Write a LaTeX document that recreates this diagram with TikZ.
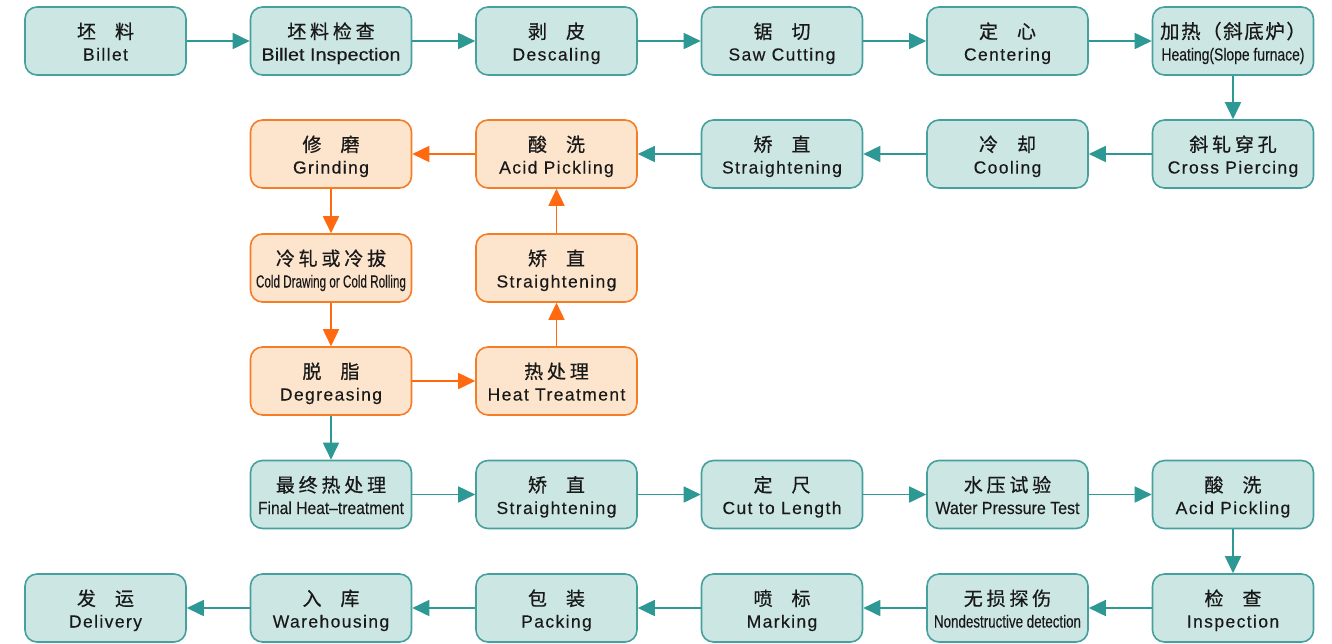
\documentclass[tikz,border=0pt]{standalone}
\usepackage{fontspec}
\usepackage{graphicx}
\usetikzlibrary{arrows.meta}
\newfontfamily\cjkf[LetterSpace=20,FakeBold=0.6]{Noto Sans CJK SC}
\newfontfamily\cjkn[LetterSpace=8,FakeBold=0.6]{Noto Sans CJK SC}
\newfontfamily\enf[LetterSpace=8,FakeBold=0.3]{Liberation Sans}
\newfontfamily\enc[FakeBold=0.3]{Liberation Sans}
\definecolor{tealF}{RGB}{204,230,228}
\definecolor{tealS}{RGB}{70,160,157}
\definecolor{tealA}{RGB}{45,152,148}
\definecolor{orF}{RGB}{253,228,204}
\definecolor{orS}{RGB}{245,125,38}
\definecolor{orA}{RGB}{255,105,15}
\definecolor{txt}{RGB}{25,25,25}
\newcommand\cnl[1]{{\cjkf\fontsize{19}{22}\selectfont\rule{0pt}{17pt}#1}}
\newcommand\cnt[1]{{\cjkn\fontsize{19.5}{22}\selectfont\rule{0pt}{17pt}#1}}
\newcommand\enl[1]{{\enf\fontsize{17.5}{22}\selectfont\smash{#1}}}
\newcommand\enq[2]{{\enc\fontsize{17.5}{22}\selectfont\smash{\resizebox{#1pt}{\height}{#2}}}}
\newcommand\twoch[2]{#1\hspace{19pt}#2}
\begin{document}
\begin{tikzpicture}[x=1pt,y=-1pt,
  box/.style={rounded corners=12pt, minimum width=161pt, minimum height=68pt,
    line width=1.6pt, align=center, inner sep=0pt, text=txt,
    font=\fontsize{17.5}{22}\selectfont},
  tbox/.style={box, draw=tealS, fill=tealF},
  obox/.style={box, draw=orS, fill=orF},
  tarr/.style={draw=tealA, line width=1.7pt, -{Triangle[length=17pt,width=16pt,fill=tealA]}},
  oarr/.style={draw=orA, line width=1.7pt, -{Triangle[length=17pt,width=16pt,fill=orA]}}]
\useasboundingbox (0,0) rectangle (1332,643);
% row 1
\node[tbox] (a1) at (105.5,41) {\cnl{\twoch{坯}{料}}\\\enl{Billet}};
\node[tbox] (a2) at (331,41) {\cnl{坯料检查}\\\enq{139}{Billet Inspection}};
\node[tbox] (a3) at (556.5,41) {\cnl{\twoch{剥}{皮}}\\\enl{Descaling}};
\node[tbox] (a4) at (782,41) {\cnl{\twoch{锯}{切}}\\\enl{Saw Cutting}};
\node[tbox] (a5) at (1007.5,41) {\cnl{\twoch{定}{心}}\\\enl{Centering}};
\node[tbox] (a6) at (1233,41) {\cnt{加热（斜底炉）}\\\enq{143}{Heating(Slope furnace)}};
% row 2
\node[tbox] (b6) at (1233,154) {\cnl{斜轧穿孔}\\\enl{Cross Piercing}};
\node[tbox] (b5) at (1007.5,154) {\cnl{\twoch{冷}{却}}\\\enl{Cooling}};
\node[tbox] (b4) at (782,154) {\cnl{\twoch{矫}{直}}\\\enl{Straightening}};
\node[obox] (b3) at (556.5,154) {\cnl{\twoch{酸}{洗}}\\\enl{Acid Pickling}};
\node[obox] (b2) at (331,154) {\cnl{\twoch{修}{磨}}\\\enl{Grinding}};
% row 3
\node[obox] (c2) at (331,268) {\cnl{冷轧或冷拔}\\\enq{150}{Cold Drawing or Cold Rolling}};
\node[obox] (c3) at (556.5,268) {\cnl{\twoch{矫}{直}}\\\enl{Straightening}};
% row 4
\node[obox] (d2) at (331,381) {\cnl{\twoch{脱}{脂}}\\\enl{Degreasing}};
\node[obox] (d3) at (556.5,381) {\cnl{热处理}\\\enl{Heat Treatment}};
% row 5
\node[tbox] (e2) at (331,494.5) {\cnl{最终热处理}\\\enq{146}{Final Heat–treatment}};
\node[tbox] (e3) at (556.5,494.5) {\cnl{\twoch{矫}{直}}\\\enl{Straightening}};
\node[tbox] (e4) at (782,494.5) {\cnl{\twoch{定}{尺}}\\\enl{Cut to Length}};
\node[tbox] (e5) at (1007.5,494.5) {\cnl{水压试验}\\\enq{144}{Water Pressure Test}};
\node[tbox] (e6) at (1233,494.5) {\cnl{\twoch{酸}{洗}}\\\enl{Acid Pickling}};
% row 6
\node[tbox] (f6) at (1233,608) {\cnl{\twoch{检}{查}}\\\enl{Inspection}};
\node[tbox] (f5) at (1007.5,608) {\cnl{无损探伤}\\\enq{147}{Nondestructive detection}};
\node[tbox] (f4) at (782,608) {\cnl{\twoch{喷}{标}}\\\enl{Marking}};
\node[tbox] (f3) at (556.5,608) {\cnl{\twoch{包}{装}}\\\enl{Packing}};
\node[tbox] (f2) at (331,608) {\cnl{\twoch{入}{库}}\\\enl{Warehousing}};
\node[tbox] (f1) at (105.5,608) {\cnl{\twoch{发}{运}}\\\enl{Delivery}};
% connectors
\draw[tarr] (a1) -- (a2);
\draw[tarr] (a2) -- (a3);
\draw[tarr] (a3) -- (a4);
\draw[tarr] (a4) -- (a5);
\draw[tarr] (a5) -- (a6);
\draw[tarr] (a6) -- (b6);
\draw[tarr] (b6) -- (b5);
\draw[tarr] (b5) -- (b4);
\draw[tarr] (b4) -- (b3);
\draw[oarr] (b3) -- (b2);
\draw[oarr] (b2) -- (c2);
\draw[oarr] (c2) -- (d2);
\draw[oarr] (d2) -- (d3);
\draw[oarr] (d3) -- (c3);
\draw[oarr] (c3) -- (b3);
\draw[tarr] (d2) -- (e2);
\draw[tarr] (e2) -- (e3);
\draw[tarr] (e3) -- (e4);
\draw[tarr] (e4) -- (e5);
\draw[tarr] (e5) -- (e6);
\draw[tarr] (e6) -- (f6);
\draw[tarr] (f6) -- (f5);
\draw[tarr] (f5) -- (f4);
\draw[tarr] (f4) -- (f3);
\draw[tarr] (f3) -- (f2);
\draw[tarr] (f2) -- (f1);
\end{tikzpicture}
\end{document}
